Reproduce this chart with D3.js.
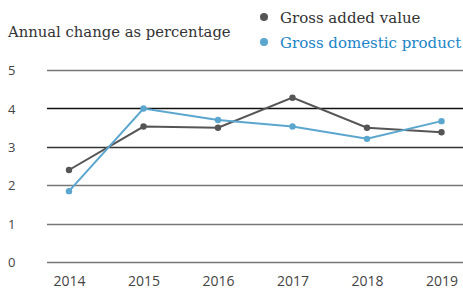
<!DOCTYPE html>
<html>
<head>
<meta charset="utf-8">
<script src="https://cdn.jsdelivr.net/npm/d3@7"></script>
<style>
body{margin:0;background:#fff;}
</style>
</head>
<body>
<svg id="chart"></svg>
<script>
var years=[2014,2015,2016,2017,2018,2019];
var gva=[2.40,3.53,3.50,4.28,3.50,3.38];
var gdp=[1.85,4.00,3.70,3.53,3.21,3.67];
var yTicks=[0,1,2,3,4,5];
var seriesNames=["Gross added value","Gross domestic product"];

var w=463;
var h=291;
var svg=d3.select("#chart")
          .attr("width",w)
          .attr("height",h);

var xScale=d3.scaleLinear()
             .domain([2014,2019])
             .range([69,441.5]);
var yScale=d3.scaleLinear()
             .domain([0,5])
             .range([262.3,70]);

// gridlines
var gridColor={0:"#777",1:"#777",2:"#777",3:"#333",4:"#111",5:"#777"};
svg.selectAll("line.grid")
   .data(yTicks)
   .enter()
   .append("line")
   .classed("grid",true)
   .attr("x1",47)
   .attr("x2",w)
   .attr("y1",function(d){return Math.round(yScale(d))+0.5;})
   .attr("y2",function(d){return Math.round(yScale(d))+0.5;})
   .attr("stroke",function(d){return gridColor[d];})
   .attr("stroke-width",1.3);

var yAxis=d3.axisLeft(yScale).tickValues(yTicks).tickFormat(d3.format("d")).tickSize(0).tickPadding(0);
svg.append("g")
   .attr("transform","translate(8,0)")
   .call(yAxis)
   .call(function(g){g.select(".domain").remove();})
   .selectAll("text")
   .attr("text-anchor","start")
   .attr("font-family","'Open Sans',sans-serif")
   .attr("font-size",13)
   .attr("fill","#444")
   .attr("dy","0.35em");

var xAxis=d3.axisBottom(xScale).tickValues(years).tickFormat(d3.format("d")).tickSize(0).tickPadding(0);
svg.append("g")
   .attr("transform","translate(0,276)")
   .call(xAxis)
   .call(function(g){g.select(".domain").remove();})
   .selectAll("text")
   .attr("font-family","'Open Sans',sans-serif")
   .attr("font-size",14)
   .attr("fill","#444");

var line=d3.line()
           .x(function(d,i){return xScale(years[i]);})
           .y(function(d){return yScale(d);});

var series=[{vals:gva,color:"#555"},{vals:gdp,color:"#5aa6cf"}];
series.forEach(function(s){
  svg.append("path")
     .datum(s.vals)
     .attr("d",line)
     .attr("fill","none")
     .attr("stroke",s.color)
     .attr("stroke-width",2);
  svg.selectAll(null)
     .data(s.vals)
     .enter()
     .append("circle")
     .attr("cx",function(d,i){return xScale(years[i]);})
     .attr("cy",function(d){return yScale(d);})
     .attr("r",3.2)
     .attr("fill",s.color);
});

// title
svg.append("text")
   .attr("x",8)
   .attr("y",37)
   .attr("font-family","'DejaVu Serif',serif")
   .attr("font-size",14.8)
   .attr("fill","#333")
   .text("Annual change as percentage");

// legend
var legColors=["#555","#5aa6cf"];
var legText=["#333","#1a84c7"];
seriesNames.forEach(function(n,i){
  svg.append("circle")
     .attr("cx",264)
     .attr("cy",17+i*25)
     .attr("r",4)
     .attr("fill",legColors[i]);
  svg.append("text")
     .attr("x",280)
     .attr("y",23+i*25)
     .attr("font-family","'DejaVu Serif',serif")
     .attr("font-size",15)
     .attr("fill",legText[i])
     .text(n);
});
</script>
</body>
</html>
